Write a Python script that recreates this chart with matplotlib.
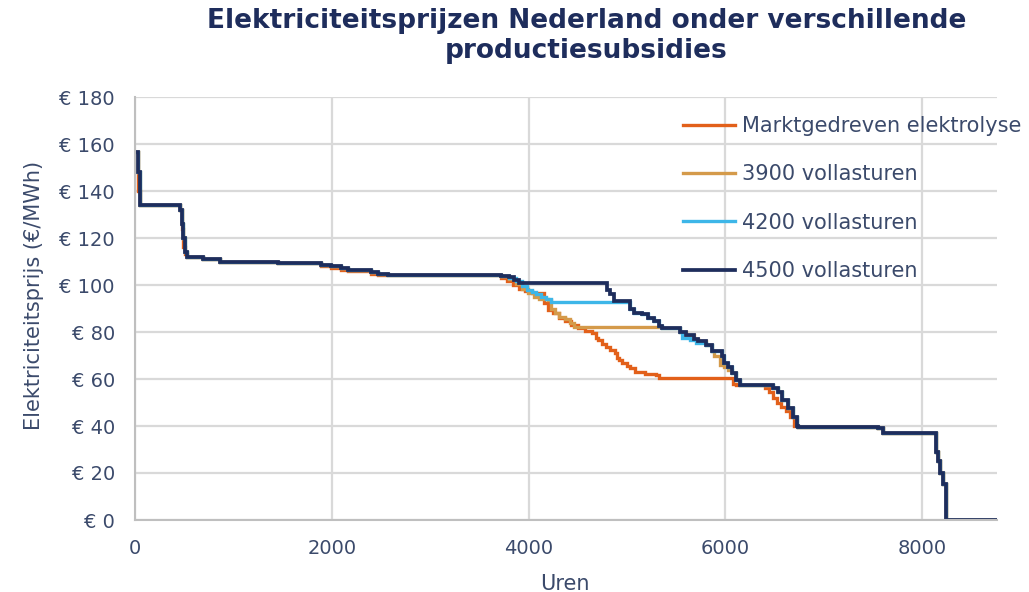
import numpy as np
import matplotlib
matplotlib.use("Agg")
import matplotlib.pyplot as plt
from matplotlib.ticker import FuncFormatter

# ---------------- data (load-duration curves, hour -> price, step-post) ----------------
head_hours = [0, 30, 50, 460, 475, 490, 510, 530, 690, 860, 1450, 1890, 1990, 2090, 2160, 2400, 2470, 2570]
head_price = [156.5, 148, 134, 132, 126, 120, 114, 112, 111, 110, 109.2, 108.5, 108, 107.2, 106.4, 105.5, 104.8, 104.2]
orange_head_price = [156.5, 140, 134, 132, 124, 116, 113, 112, 111, 110, 109.2, 108, 107.2, 106.5, 105.8, 104.8, 104.4, 104.2]

tail_hours = [6740, 7550, 7600, 8140, 8165, 8185, 8215, 8240, 8760]
tail_price = [39.6, 39.0, 37.2, 29, 25, 20, 15.5, 0, 0]

navy_hours = [3720, 3800, 3850, 3900, 4800, 4830, 4870, 5030, 5070, 5150, 5210, 5270, 5330, 5360,
              5540, 5600, 5680, 5720, 5800, 5860, 5970, 5990, 6030, 6070, 6110, 6150, 6480, 6530,
              6580, 6640, 6690, 6730]
navy_price = [103.8, 103.2, 102.3, 100.8, 98, 96, 93, 90, 88, 87.5, 86, 84.5, 82.5, 81.5,
              80, 78.7, 77, 76, 74.5, 72, 70, 67, 65, 62.5, 59.5, 57.4, 56, 54.5,
              51, 47.6, 44, 40]

blue_hours = [3720, 3800, 3870, 3930, 3980, 4030, 4080, 4130, 4180, 4230, 5030, 5070, 5150, 5210, 5270, 5330,
              5360, 5540, 5560, 5640, 5700, 5800, 5860, 5970, 5990, 6030, 6070, 6110, 6150, 6480, 6530,
              6580, 6640, 6690, 6730]
blue_price = [103.8, 103, 101.5, 99.5, 98, 97, 96, 95, 94, 92.9, 90, 88, 87.5, 86, 84.5, 82.5,
              81.5, 80, 77.5, 76.5, 75.5, 74.5, 72, 70, 67, 65, 62.5, 59.5, 57.4, 56, 54.5,
              51, 47.6, 44, 40]

tan_hours = [3720, 3800, 3870, 3930, 3990, 4050, 4110, 4200, 4230, 4270, 4310, 4370, 4420, 4460, 5360,
             5540, 5600, 5680, 5720, 5800, 5860, 5880, 5940, 5990, 6030, 6070, 6110, 6150, 6480, 6530,
             6580, 6640, 6690, 6730]
tan_price = [103.8, 102.5, 100.5, 98.5, 96.5, 95, 94, 93.5, 90, 88, 86.5, 85.5, 84, 82.3, 81.5,
             80, 78.7, 77, 76, 74.5, 72, 70, 66, 65, 64, 62.5, 59.5, 57.4, 56, 54.5,
             51, 47.6, 44, 40]

orange_hours = [3720, 3780, 3840, 3900, 3960, 4030, 4160, 4200, 4250, 4310, 4370, 4430, 4500, 4570,
                4640, 4680, 4710, 4750, 4790, 4830, 4880, 4900, 4920, 4950, 5000, 5030, 5080, 5180,
                5290, 5330, 6080, 6110, 6400, 6440, 6480, 6520, 6560, 6620, 6660, 6700]
orange_price = [103, 101.5, 100, 98.5, 97.5, 96.6, 92.3, 89.5, 88, 86, 84.5, 83, 81.7, 80.5,
                79.5, 77.5, 76.5, 75, 73.5, 72.3, 71, 69, 68, 66.8, 65.5, 64.8, 63, 62.3,
                61.5, 60.3, 58, 57.4, 56, 54.5, 52, 50, 48, 46.5, 44, 40]

series_labels = ["Marktgedreven elektrolyse", "3900 vollasturen", "4200 vollasturen", "4500 vollasturen"]
series_colors = ["#E2601A", "#D49A4A", "#3DB6E8", "#1E2D5C"]
series_widths = [2.4, 2.4, 2.4, 2.7]

xticks = [0, 2000, 4000, 6000, 8000]
yticks = list(range(0, 181, 20))

title = "Elektriciteitsprijzen Nederland onder verschillende\nproductiesubsidies"
ylabel = "Elektriciteitsprijs (€/MWh)"
xlabel = "Uren"

# ---------------- build series ----------------
def build(mid_h, mid_p, hp=head_price):
    h = list(head_hours) + list(mid_h) + list(tail_hours)
    p = list(hp) + list(mid_p) + list(tail_price)
    return np.array(h), np.array(p)

series = [build(orange_hours, orange_price, orange_head_price),
          build(tan_hours, tan_price),
          build(blue_hours, blue_price),
          build(navy_hours, navy_price)]

text_color = "#3B4A6B"
title_color = "#1E2D5C"

W, H = 1029, 592
L, R, B, T = 135, 997, 520, 97
fig = plt.figure(figsize=(W/100, H/100), dpi=100)
ax = fig.add_axes([L/W, 1-B/H, (R-L)/W, (B-T)/H])

for (h, p), lab, c, lw in zip(series, series_labels, series_colors, series_widths):
    ax.plot(h, p, drawstyle="steps-post", color=c, lw=lw, label=lab, solid_joinstyle="miter")

ax.set_xlim(0, 8760)
ax.set_ylim(0, 180)
ax.set_xticks(xticks)
ax.set_yticks(yticks)
ax.yaxis.set_major_formatter(FuncFormatter(lambda v, pos: f"€ {int(v)}"))
ax.grid(True, color="#D9D9D9", lw=1.6)
ax.set_axisbelow(True)
for s in ["top", "right"]:
    ax.spines[s].set_visible(False)
for s in ["left", "bottom"]:
    ax.spines[s].set_color("#BFBFBF")
    ax.spines[s].set_linewidth(1.5)
ax.tick_params(length=0, labelsize=14, colors=text_color)
ax.tick_params(axis="y", pad=14.5)
ax.tick_params(axis="x", pad=14)

ax.set_ylabel(ylabel, fontsize=15, color=text_color)
ax.yaxis.label.set_verticalalignment("center")
ax.yaxis.set_label_coords((34-L)/(R-L), (B-295)/(B-T))
ax.set_xlabel(xlabel, fontsize=15, color=text_color)
ax.xaxis.label.set_verticalalignment("center")
ax.xaxis.set_label_coords((565-L)/(R-L), (B-584)/(B-T))

leg = ax.legend(loc="upper left", bbox_to_anchor=((683-L)/(R-L), (B-116)/(B-T)), frameon=False,
                fontsize=15, handlelength=2.5, handletextpad=0.33, labelspacing=1.36,
                borderaxespad=0, borderpad=0)
for t in leg.get_texts():
    t.set_color(text_color)

fig.text(0.57, 1-36/H, title, ha="center", va="center", fontsize=19, fontweight="bold",
         color=title_color, linespacing=1.2)

fig.savefig("out.png", dpi=100)
